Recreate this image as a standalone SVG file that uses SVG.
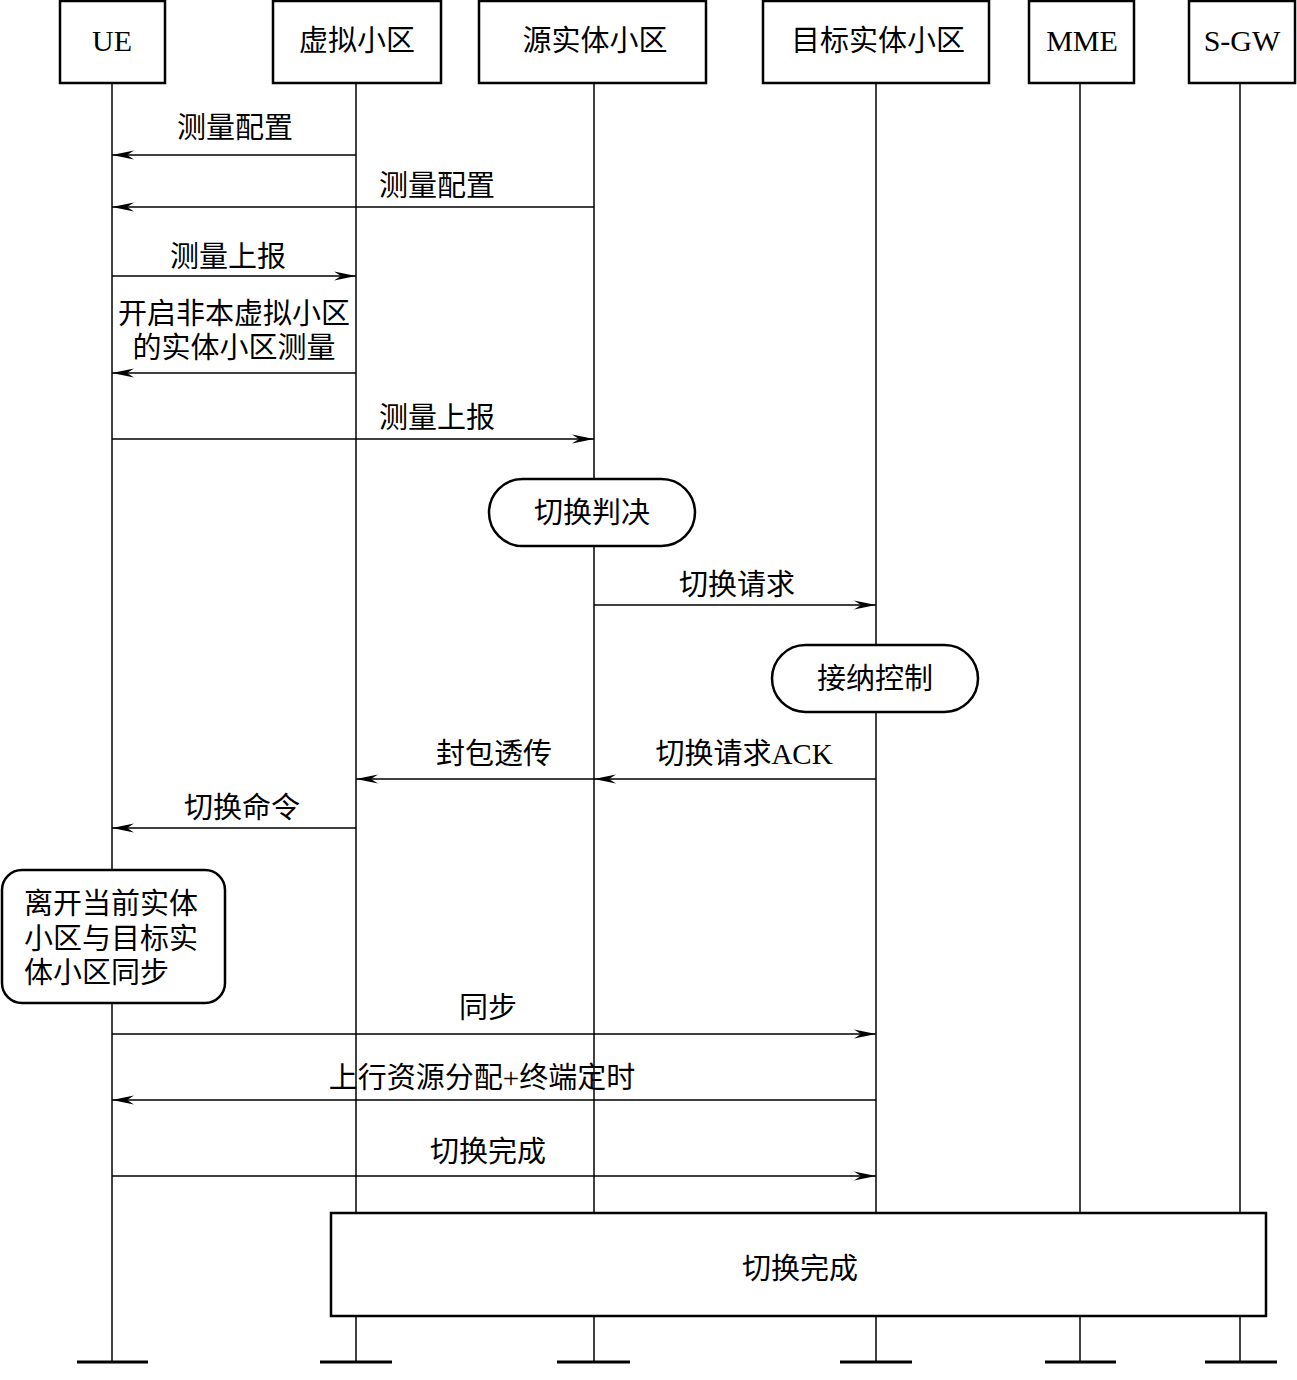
<svg xmlns="http://www.w3.org/2000/svg" width="1297" height="1380" viewBox="0 0 1297 1380">
<defs>
<marker id="ah" markerWidth="24" markerHeight="12" refX="22" refY="6" orient="auto" markerUnits="userSpaceOnUse">
<path d="M0,1.5 L22,6 L0,10.5 L7,6 Z" fill="#000"/>
</marker>
<style>
.box{fill:#fff;stroke:#000;stroke-width:2.5}
.life{stroke:#000;stroke-width:1.5;fill:none}
.bar{stroke:#000;stroke-width:3}
.msg{stroke:#000;stroke-width:1.7;fill:none;marker-end:url(#ah)}
.t{font-family:"Liberation Serif","Noto Sans CJK SC",serif;font-size:29px;fill:#000}
.l{font-size:30px}
.c{text-anchor:middle}
</style>
</defs>
<rect width="1297" height="1380" fill="#fff"/>
<g id="lifelines">
<line class="life" x1="112" y1="83" x2="112" y2="1362"/>
<line class="life" x1="356" y1="83" x2="356" y2="1362"/>
<line class="life" x1="594" y1="83" x2="594" y2="1362"/>
<line class="life" x1="876" y1="83" x2="876" y2="1362"/>
<line class="life" x1="1080" y1="83" x2="1080" y2="1362"/>
<line class="life" x1="1240" y1="83" x2="1240" y2="1362"/>
<line class="bar" x1="77" y1="1362" x2="148" y2="1362"/>
<line class="bar" x1="320" y1="1362" x2="392" y2="1362"/>
<line class="bar" x1="557" y1="1362" x2="630" y2="1362"/>
<line class="bar" x1="840" y1="1362" x2="912" y2="1362"/>
<line class="bar" x1="1045" y1="1362" x2="1116" y2="1362"/>
<line class="bar" x1="1205" y1="1362" x2="1277" y2="1362"/>
</g>
<g id="node-ue"><rect class="box" x="60" y="1" width="105" height="82"/><text class="t l c" x="112" y="51">UE</text></g>
<g id="node-virtual"><rect class="box" x="273" y="1" width="168" height="82"/><text class="t c" x="357" y="51">虚拟小区</text></g>
<g id="node-source"><rect class="box" x="479" y="1" width="227" height="82"/><text class="t c" x="595" y="51">源实体小区</text></g>
<g id="node-target"><rect class="box" x="763" y="1" width="226" height="82"/><text class="t c" x="878" y="51">目标实体小区</text></g>
<g id="node-mme"><rect class="box" x="1029" y="1" width="105" height="82"/><text class="t l c" x="1082" y="51">MME</text></g>
<g id="node-sgw"><rect class="box" x="1189" y="1" width="106" height="82"/><text class="t l c" x="1242" y="51">S-GW</text></g>
<g id="connectors">
<line class="msg" x1="356" y1="155" x2="112" y2="155"/>
<line class="msg" x1="594" y1="207" x2="112" y2="207"/>
<line class="msg" x1="112" y1="276" x2="356" y2="276"/>
<line class="msg" x1="356" y1="373" x2="112" y2="373"/>
<line class="msg" x1="112" y1="439" x2="594" y2="439"/>
<line class="msg" x1="594" y1="605" x2="876" y2="605"/>
<line class="msg" x1="876" y1="779" x2="594" y2="779"/>
<line class="msg" x1="594" y1="779" x2="356" y2="779"/>
<line class="msg" x1="356" y1="828" x2="112" y2="828"/>
<line class="msg" x1="112" y1="1034" x2="876" y2="1034"/>
<line class="msg" x1="876" y1="1100" x2="112" y2="1100"/>
<line class="msg" x1="112" y1="1176" x2="876" y2="1176"/>
</g>
<g id="labels">
<text class="t c" x="235" y="138">测量配置</text>
<text class="t c" x="437" y="196">测量配置</text>
<text class="t c" x="228" y="267">测量上报</text>
<text class="t c" x="234" y="324">开启非本虚拟小区</text>
<text class="t c" x="234" y="358">的实体小区测量</text>
<text class="t c" x="437" y="428">测量上报</text>
<text class="t c" x="737" y="595">切换请求</text>
<text class="t c" x="494" y="764">封包透传</text>
<text class="t c" x="744" y="764">切换请求ACK</text>
<text class="t c" x="242" y="818">切换命令</text>
<text class="t c" x="488" y="1018">同步</text>
<text class="t c" x="482" y="1088">上行资源分配+终端定时</text>
<text class="t c" x="488" y="1162">切换完成</text>
</g>
<g id="node-decision"><rect class="box" x="489" y="479" width="206" height="67" rx="33.5"/><text class="t c" x="592" y="523">切换判决</text></g>
<g id="node-admission"><rect class="box" x="772" y="645" width="206" height="67" rx="33.5"/><text class="t c" x="875" y="689">接纳控制</text></g>
<g id="node-sync"><rect class="box" x="2" y="870" width="223" height="133" rx="20"/>
<text class="t" x="24" y="914">离开当前实体</text>
<text class="t" x="24" y="949">小区与目标实</text>
<text class="t" x="24" y="983">体小区同步</text></g>
<g id="node-complete"><rect class="box" x="331" y="1213" width="935" height="103"/><text class="t c" x="800" y="1279">切换完成</text></g>
</svg>
